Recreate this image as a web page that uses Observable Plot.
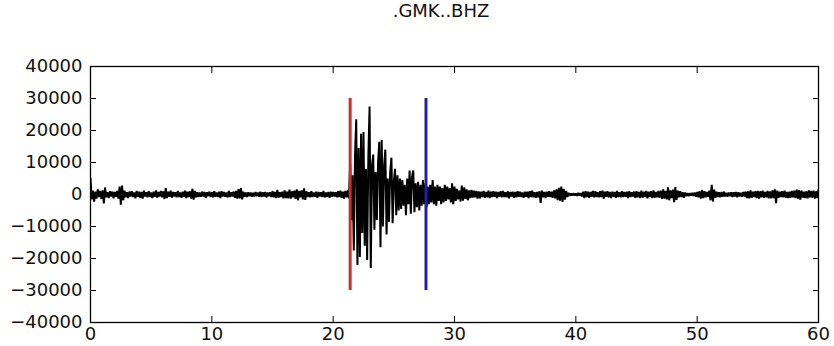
<!DOCTYPE html>
<html>
<head>
<meta charset="utf-8">
<script src="https://cdn.jsdelivr.net/npm/d3@7"></script>
<script src="https://cdn.jsdelivr.net/npm/@observablehq/plot@0.6"></script>
<style>
  html, body { margin: 0; padding: 0; background: #fff; }
  #wrap { width: 834px; height: 346px; position: relative; overflow: hidden; }
  #title { height: 40px; line-height: 40px; font: 18px "DejaVu Sans", sans-serif; color: #111;
           text-align: center; padding-left: 48px; box-sizing: border-box; width: 834px; }
</style>
</head>
<body>
<div id="wrap">
  <div id="title">.GMK..BHZ</div>
  <div id="chart"></div>
</div>
<script>
// Sample interval (s) of the trace
const sampleStep = 0.1;

// Trace values, 0.0 s .. 21.3 s (pre-event noise)
const preEvent = [
  5000, -1500, 1200, -2200, 900, -1300, 1600, -800, 1100, -1400,
  1300, -2800, 2200, -900, 700, -1100, 1000, -600, 900, -1200,
  800, -700, 1100, -1300, 2500, -3200, 2800, -1800, 1200, -900,
  700, -1100, 900, -600, 1000, -800, 600, -1200, 1100, -700,
  900, -1000, 800, -1300, 1200, -600, 700, -900, 1000, -800,
  600, -1100, 900, -700, 1300, -1000, 800, -600, 1100, -900,
  1000, -1400, 2000, -1100, 900, -700, 1200, -1000, 800, -600,
  700, -900, 1100, -800, 600, -1000, 900, -700, 1200, -1100,
  900, -800, 1000, -1300, 1800, -1600, 1100, -900, 700, -800,
  600, -700, 900, -600, 800, -1000, 700, -500, 900, -800,
  700, -900, 1000, -700, 600, -800, 900, -1100, 1000, -600,
  800, -700, 600, -900, 1100, -800, 700, -600, 900, -1000,
  1100, -1300, 1700, -1200, 2000, -1500, 900, -700, 600, -800,
  700, -500, 600, -700, 500, -600, 800, -500, 600, -700,
  900, -800, 700, -600, 800, -900, 600, -500, 700, -800,
  1000, -900, 800, -1100, 1400, -1000, 700, -800, 900, -1200,
  1300, -1100, 900, -1200, 1500, -1300, 1000, -900, 1200, -1400,
  1600, -1800, 1100, -900, 1300, -1500, 1900, -1700, 1000, -800,
  700, -900, 1000, -800, 600, -700, 900, -1000, 800, -600,
  700, -800, 1100, -900, 600, -700, 800, -1000, 900, -700,
  800, -600, 700, -900, 1000, -800, 1200, -1100, 900, -1300,
  1100, -900, 1300, -1200
];

// Trace values, 21.4 s .. 29.9 s (event)
const eventSamples = [
  9500, -8000, 6000, -17500, 12000, 23500,
  -22000, 14500, -19500, 19000, -12000, 19500, -16000, 8000, -20500, 12000,
  27500, -23000, 9000, 12500, -11000, 7000, -8000, 10000, 16500, -16500,
  17000, -10000, 9000, 14000, -12500, 5000, -8500, 7000, 11500, -9000,
  4000, 8000, -6500, 6000, -5000, 5000, -4500, 4500, -3500, 3000,
  -6500, 5000, -3000, 7500, -6000, 5500, 7500, -5500, 3500, -4000,
  4000, -5000, 3000, -3500, 4500, -3000, 3500, -4000, 2500, -3000,
  3000, -2500, 4500, -3000, 2500, -3500, 3000, -2000, 2500, -3000,
  2000, -2500, 3000, -2000, 2500, -1500, 2000, -2500, 3500, -3000
];

// Trace values, 30.0 s .. 60.0 s (post-event noise)
const postEvent = [
  2500, -2000, 1800, -1500, 1200, -2200, 2800, -1900, 2200, -1400,
  1600, -1800, 1300, -1100, 1400, -1000, 1200, -900, 1100, -1300,
  1000, -1200, 900, -800, 1100, -1000, 800, -900, 1200, -1100,
  900, -800, 1000, -700, 900, -1100, 800, -700, 1000, -900,
  1100, -800, 700, -900, 1000, -1200, 800, -600, 900, -1000,
  800, -900, 1000, -700, 900, -800, 600, -1000, 900, -700,
  900, -1100, 1000, -800, 1200, -900, 700, -1000, 800, -900,
  1000, -2600, 1200, -900, 800, -1100, 900, -700, 1000, -800,
  900, -1000, 1300, -1200, 1600, -1800, 2100, -1900, 2500, -2300,
  1800, -1600, 1100, -800, 500, -400, 300, -300, 400, -300,
  300, -400, 500, -300, 400, -600, 900, -1100, 1000, -800,
  900, -1000, 800, -700, 1100, -900, 1000, -800, 700, -900,
  1000, -800, 1200, -1300, 900, -700, 1000, -900, 800, -1100,
  900, -700, 800, -1000, 1100, -800, 700, -900, 1000, -800,
  800, -700, 900, -1100, 1000, -800, 700, -600, 900, -1000,
  1000, -900, 800, -1100, 1200, -1000, 900, -800, 1100, -1200,
  900, -800, 1000, -1100, 1300, -1000, 800, -900, 1100, -1000,
  1200, -1400, 1600, -1300, 1100, -1500, 2200, -1800, 1300, -1100,
  1500, -2400, 2300, -1700, 1200, -900, 1000, -800, 700, -1000,
  600, -500, 400, -500, 400, -300, 500, -400, 600, -700,
  800, -900, 1000, -1300, 1400, -1100, 1000, -900, 800, -700,
  1200, -1800, 3000, -2200, 1500, -1000, 900, -800, 700, -900,
  800, -700, 900, -600, 500, -700, 600, -500, 700, -800,
  700, -600, 800, -900, 700, -600, 500, -700, 800, -600,
  900, -1100, 1000, -1200, 1300, -1000, 900, -800, 1000, -1100,
  1100, -1300, 1000, -900, 1200, -1000, 800, -900, 1100, -1200,
  1000, -1200, 1300, -1100, 1600, -2700, 1200, -1000, 900, -800,
  1000, -900, 1200, -1000, 800, -1100, 900, -1000, 1100, -900,
  1200, -1100, 1500, -1300, 1400, -1600, 1200, -1000, 900, -1100,
  1000, -1200, 1300, -900, 1100, -1000, 1200, -1300, 1000, -1100,
  1400
];

// Phase picks
const pickTimes = [21.4, 27.65];
const pickColors = ["#d42a2a", "#1f1fb0"];
const pickLow = -30000;
const pickHigh = 30000;

// Axis ticks
const xTicks = [0, 10, 20, 30, 40, 50, 60];
const yTicks = [-40000, -30000, -20000, -10000, 0, 10000, 20000, 30000, 40000];

const samples = [...preEvent, ...eventSamples, ...postEvent];
const trace = samples.map((v, i) => ({ t: +(i * sampleStep).toFixed(2), v }));
const picks = pickTimes.map((t, i) => ({ t, color: pickColors[i], y1: pickLow, y2: pickHigh }));
const numFmt = d => (d < 0 ? "\u2212" : "") + Math.abs(d);

const chart = Plot.plot({
  width: 834,
  height: 306,
  marginTop: 26,
  marginBottom: 24,
  marginLeft: 90,
  marginRight: 16,
  style: { fontFamily: "'DejaVu Sans', sans-serif", fontSize: "18px", color: "#111", background: "#fff" },
  x: { domain: [0, 60] },
  y: { domain: [-40000, 40000] },
  marks: [
    Plot.line(trace, { x: "t", y: "v", stroke: "#000", strokeWidth: 2, strokeLinejoin: "miter", clip: true }),
    Plot.ruleX(picks, { x: "t", y1: "y1", y2: "y2", stroke: "color", strokeWidth: 3 }),
    Plot.axisX({ anchor: "bottom", ticks: xTicks, tickSize: -6, tickPadding: 11, tickFormat: numFmt, label: null, stroke: "#000" }),
    Plot.axisX({ anchor: "top", ticks: xTicks, tickSize: -6, tickFormat: () => "", label: null, stroke: "#000" }),
    Plot.axisY({ anchor: "left", ticks: yTicks, tickSize: -6, tickPadding: 14, tickFormat: numFmt, label: null, stroke: "#000" }),
    Plot.axisY({ anchor: "right", ticks: yTicks, tickSize: -6, tickFormat: () => "", label: null, stroke: "#000" }),
    Plot.frame({ stroke: "#000", strokeWidth: 1.3 })
  ]
});
document.getElementById("chart").appendChild(chart);
</script>
</body>
</html>
